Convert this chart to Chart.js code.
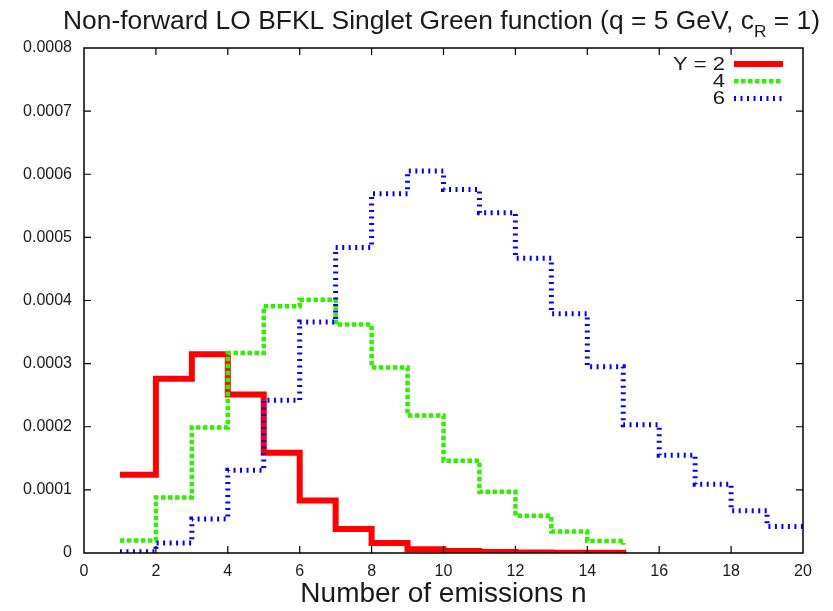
<!DOCTYPE html>
<html><head><meta charset="utf-8">
<script src="https://cdn.jsdelivr.net/npm/chart.js@4.4.1/dist/chart.umd.min.js"></script>
<style>html,body{margin:0;padding:0;background:#fff}#wrap{width:833px;height:611px;position:relative}</style>
</head><body><div id="wrap"><canvas id="c" width="833" height="611"></canvas></div>
<script>
// ---- text ----
const titleMain = 'Non-forward LO BFKL Singlet Green function (q = 5 GeV, c';
const titleSub = 'R';
const titleTail = ' = 1)';
const xAxisTitle = 'Number of emissions n';
const seriesLabels = ['Y = 2', '4', '6'];

// ---- data (number of emissions n, step values) ----
const nY2 = [1,2,3,4,5,6,7,8,9,10,11,12,13,14,15];
const valY2 = [0.000124,0.000276,0.000315,0.000251,0.000159,0.000083,0.000038,0.000016,0.000006,0.000003,0.0000015,0.0000008,0.0000004,0.0000002,0.0000001];
const nY4 = [1,2,3,4,5,6,7,8,9,10,11,12,13,14,15];
const valY4 = [0.000020,0.000088,0.000199,0.000317,0.000391,0.000401,0.000362,0.000294,0.000218,0.000146,0.000097,0.000059,0.000034,0.000019,0.000013];
const nY6 = [1,2,3,4,5,6,7,8,9,10,11,12,13,14,15,16,17,18,19,20];
const valY6 = [0.000002,0.000016,0.000054,0.000131,0.000242,0.000366,0.000484,0.000569,0.000605,0.000576,0.000539,0.000467,0.000379,0.000295,0.000203,0.000155,0.000109,0.000067,0.000042,0.000036];

// ---- ticks ----
const xTickValues = [0,2,4,6,8,10,12,14,16,18,20];
const xTickLabels = ['0','2','4','6','8','10','12','14','16','18','20'];
const yTickValues = [0,0.0001,0.0002,0.0003,0.0004,0.0005,0.0006,0.0007,0.0008];
const yTickLabels = ['0','0.0001','0.0002','0.0003','0.0004','0.0005','0.0006','0.0007','0.0008'];

const FONT = '"Liberation Sans", Arial, Helvetica, sans-serif';
const TXT = '#1a1a1a';

const styles = [
  {color:'#ff0000', width:6, dash:[], order:3},
  {color:'#2ef000', width:4.5, dash:[4.5,2.5], order:2},
  {color:'#0000ff', width:5, dash:[2,4.5], order:1}
];

const toXY = (xs, ys) => xs.map((x,i) => ({x:x, y:ys[i]}));
const seriesData = [toXY(nY2,valY2), toXY(nY4,valY4), toXY(nY6,valY6)];

const datasets = seriesData.map((d,i) => ({
  label: seriesLabels[i],
  data: d,
  borderColor: styles[i].color,
  backgroundColor: styles[i].color,
  borderWidth: styles[i].width,
  borderDash: styles[i].dash,
  borderCapStyle: 'butt',
  borderJoinStyle: 'miter',
  stepped: true,
  pointRadius: 0,
  fill: false,
  order: styles[i].order
}));

const decor = {
  id: 'decor',
  afterDraw(chart) {
    const ctx = chart.ctx;
    const a = chart.chartArea;
    const xs = chart.scales.x, ys = chart.scales.y;
    ctx.save();
    // frame
    ctx.strokeStyle = '#000';
    ctx.lineWidth = 1.5;
    ctx.setLineDash([]);
    ctx.strokeRect(a.left, a.top, a.right - a.left, a.bottom - a.top);
    // inward ticks on all four sides
    ctx.lineWidth = 1.2;
    const TL = 7;
    ctx.beginPath();
    xs.ticks.forEach(t => {
      const px = xs.getPixelForValue(t.value);
      if (px <= a.left + 1 || px >= a.right - 1) return;
      ctx.moveTo(px, a.bottom); ctx.lineTo(px, a.bottom - TL);
      ctx.moveTo(px, a.top); ctx.lineTo(px, a.top + TL);
    });
    ys.ticks.forEach(t => {
      const py = ys.getPixelForValue(t.value);
      if (py <= a.top + 1 || py >= a.bottom - 1) return;
      ctx.moveTo(a.left, py); ctx.lineTo(a.left + TL, py);
      ctx.moveTo(a.right, py); ctx.lineTo(a.right - TL, py);
    });
    ctx.stroke();

    // title with subscript
    ctx.fillStyle = TXT;
    ctx.textBaseline = 'alphabetic';
    ctx.textAlign = 'left';
    ctx.font = '26px ' + FONT;
    const w1 = ctx.measureText(titleMain).width;
    const w3 = ctx.measureText(titleTail).width;
    ctx.font = '17px ' + FONT;
    const w2 = ctx.measureText(titleSub).width;
    const sx = 757 / (w1 + w2 + w3);
    ctx.save();
    ctx.translate(63, 29);
    ctx.scale(sx, 1);
    ctx.font = '26px ' + FONT;
    ctx.fillText(titleMain, 0, 0);
    ctx.font = '17px ' + FONT;
    ctx.fillText(titleSub, w1, 7.5);
    ctx.font = '26px ' + FONT;
    ctx.fillText(titleTail, w1 + w2, 0);
    ctx.restore();

    // legend
    const baselines = [69.5, 86.8, 104];
    ctx.font = '18px ' + FONT;
    const lsx = 52 / ctx.measureText(seriesLabels[0]).width;
    chart.data.datasets.forEach((ds, i) => {
      ctx.save();
      ctx.translate(725, baselines[i]);
      ctx.scale(lsx, 1);
      ctx.textAlign = 'right';
      ctx.fillStyle = TXT;
      ctx.fillText(ds.label, 0, 0);
      ctx.restore();
      ctx.beginPath();
      ctx.strokeStyle = ds.borderColor;
      ctx.lineWidth = ds.borderWidth;
      ctx.setLineDash(ds.borderDash);
      ctx.lineCap = 'butt';
      const ly = baselines[i] - 5.5;
      ctx.moveTo(734, ly); ctx.lineTo(783, ly);
      ctx.stroke();
    });
    ctx.restore();
  }
};

new Chart(document.getElementById('c'), {
  type: 'line',
  data: { datasets: datasets },
  options: {
    responsive: false,
    animation: false,
    devicePixelRatio: 1,
    layout: { padding: { top: 48, right: 30, left: 0, bottom: 0 } },
    plugins: { legend: { display: false }, title: { display: false }, tooltip: { enabled: false } },
    scales: {
      x: {
        type: 'linear', min: 0, max: 20,
        afterBuildTicks: s => { s.ticks = xTickValues.map(v => ({ value: v })); },
        afterFit: s => { s.height = 58; },
        grid: { display: false },
        border: { display: false },
        ticks: {
          font: { size: 16, family: FONT }, color: TXT, padding: 1,
          maxRotation: 0, autoSkip: false,
          callback: v => xTickLabels[xTickValues.indexOf(v)]
        },
        title: { display: true, text: xAxisTitle, font: { size: 28, family: FONT }, color: TXT, padding: { top: 0, bottom: 0 } }
      },
      y: {
        type: 'linear', min: 0, max: 0.0008,
        afterBuildTicks: s => { s.ticks = yTickValues.map(v => ({ value: v })); },
        afterFit: s => { s.width = 84; },
        grid: { display: false },
        border: { display: false },
        ticks: {
          font: { size: 16, family: FONT }, color: TXT, padding: 4,
          autoSkip: false,
          callback: v => { const k = yTickValues.findIndex(t => Math.abs(t - v) < 1e-12); return k >= 0 ? yTickLabels[k] : ''; }
        }
      }
    }
  },
  plugins: [decor]
});
</script>
</body></html>
